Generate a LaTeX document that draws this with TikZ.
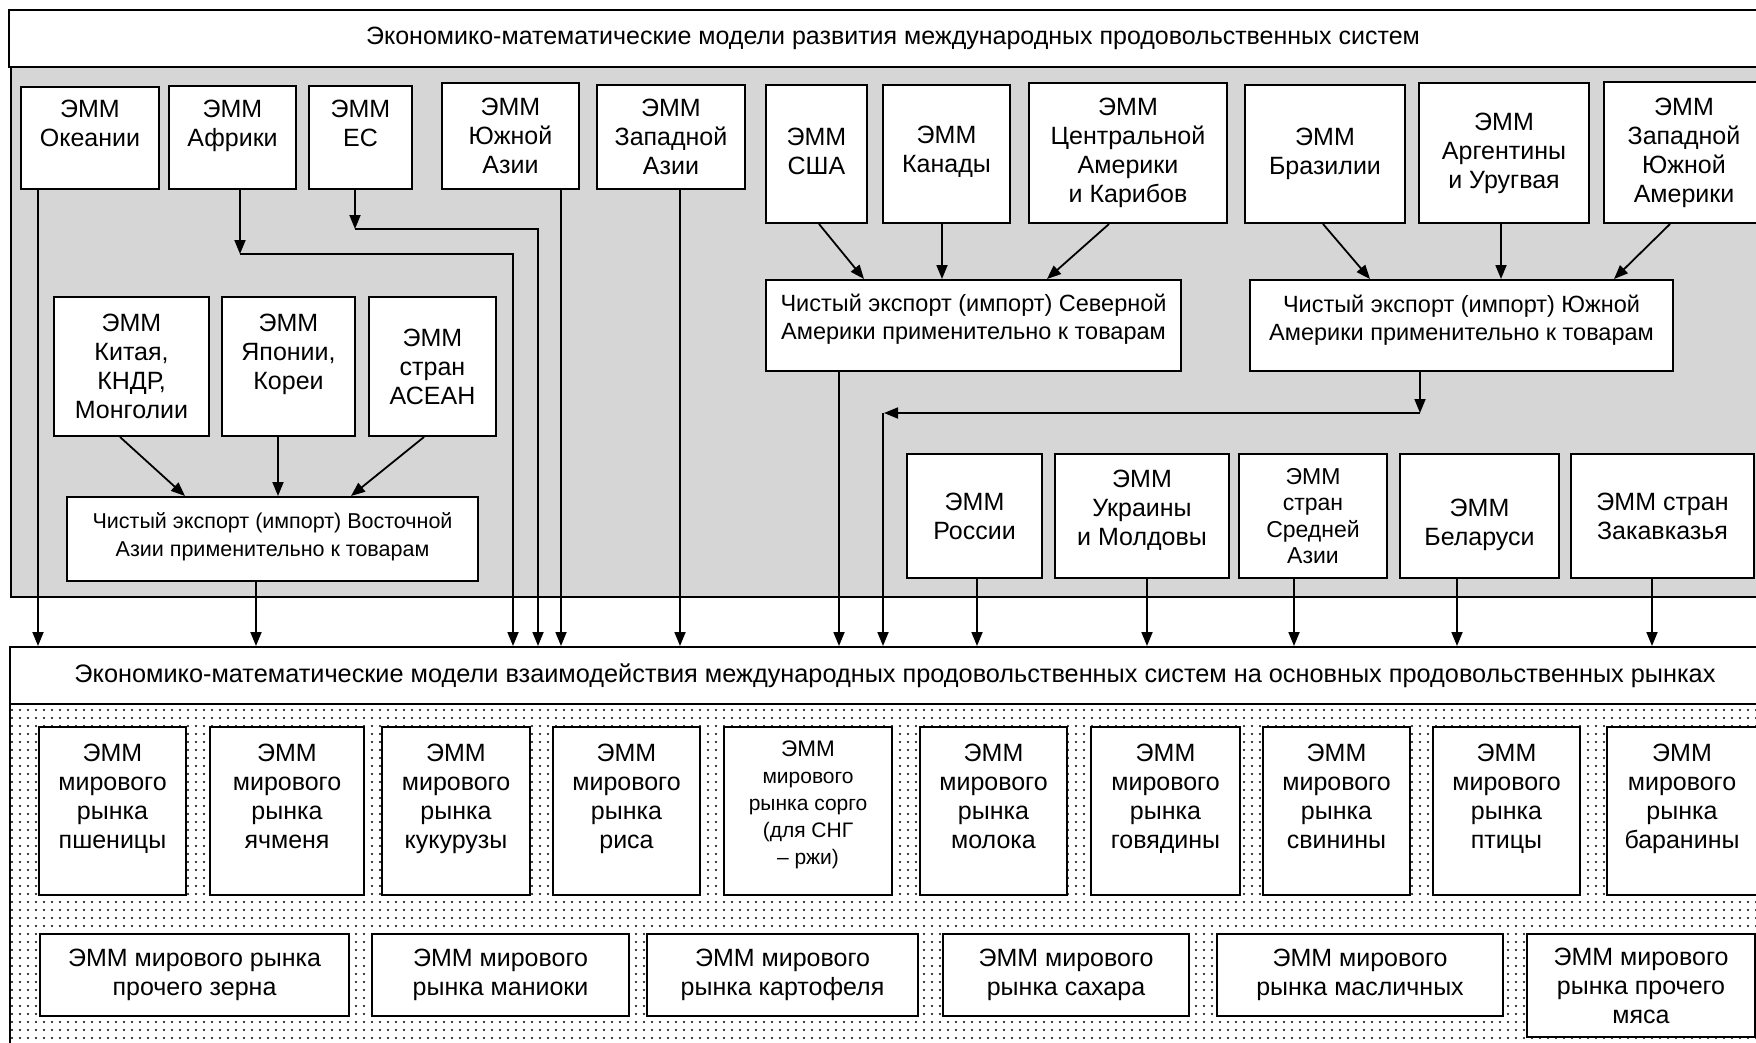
\documentclass[tikz,border=0pt]{standalone}
\usepackage{fontspec}
\setmainfont{Liberation Sans}
\usetikzlibrary{arrows.meta,patterns,calc}
\newcommand\myfs[2]{\fontsize{#1}{#2}\selectfont}
\newcommand\dn[1]{\rule[-#1pt]{0pt}{0pt}}
\newcommand\up[1]{\rule{0pt}{#1pt}}
\pgfdeclarepatternformonly{mydots}{\pgfpoint{-1pt}{-1pt}}{\pgfpoint{9pt}{9pt}}{\pgfpoint{8pt}{8pt}}{\pgfpathcircle{\pgfpoint{4pt}{4pt}}{1.15pt}\pgfusepath{fill}}
\tikzset{
  frm/.style={draw, line width=2pt},
  box/.style={draw, line width=2pt, fill=white, align=center, inner sep=0pt, font=\myfs{25}{29}},
  nbox/.style={box, font=\myfs{23.5}{28}},
  ebox/.style={box, font=\myfs{21.5}{28}},
  sbox/.style={box, font=\myfs{23}{26.5}},
  gbox/.style={box, font=\myfs{21}{27}},
  ttl/.style={frm, fill=white, font=\myfs{25}{29}},
  arr/.style={line width=1.8pt, -{Triangle[length=14pt,width=11pt]}},
  ln/.style={line width=1.8pt}
}
\begin{document}
\begin{tikzpicture}[x=1pt,y=-1pt]
\useasboundingbox (0,0) rectangle (1756,1042);
\clip (0,0) rectangle (1756,1042);
\fill[white] (0,0) rectangle (1756,1042);
% regions
\filldraw[fill=black!16, line width=2pt] (11,67) rectangle (1790,597);
\fill[white] (10,704) rectangle (1790,1070);
\fill[pattern=mydots] (10,704) rectangle (1790,1070);
\draw[line width=2pt] (10,704) rectangle (1790,1070);
\node[ttl, minimum width=1768, minimum height=57] (top) at (893,38.5) {Экономико-математические модели развития международных продовольственных систем};
\node[ttl, minimum width=1770, minimum height=57, font=\myfs{25.3}{29}] (hdr) at (895,675.5) {Экономико-математические модели взаимодействия международных продовольственных систем на основных продовольственных рынках};
% row 1
\node[box, minimum width=138, minimum height=102] (oce) at (90,138) {ЭММ\\Океании\\\mbox{}};
\node[box, minimum width=127, minimum height=103] (afr) at (232.5,137.5) {ЭММ\\Африки\\\mbox{}};
\node[box, minimum width=103, minimum height=103] (eu) at (360.5,137.5) {ЭММ\\ЕС\\\mbox{}};
\node[box, minimum width=137, minimum height=106] (sas) at (510.5,136) {ЭММ\\Южной\\Азии};
\node[box, minimum width=148, minimum height=104] (was) at (671,137) {ЭММ\\Западной\\Азии};
\node[box, minimum width=101, minimum height=138] (usa) at (816.5,154) {ЭММ\\США\dn{6}};
\node[box, minimum width=127, minimum height=138] (can) at (946.5,154) {ЭММ\\Канады\dn{9}};
\node[box, minimum width=198, minimum height=140] (cam) at (1128,153) {ЭММ\\Центральной\\Америки\\и Карибов};
\node[box, minimum width=160, minimum height=138] (bra) at (1325,154) {ЭММ\\Бразилии\dn{6}};
\node[box, minimum width=170, minimum height=140] (arg) at (1504,153) {ЭММ\\Аргентины\\и Уругвая};
\node[box, minimum width=160, minimum height=141] (wsa) at (1684,152.5) {ЭММ\\Западной\\Южной\\Америки};
% net export
\node[nbox, minimum width=415, minimum height=91] (nna) at (973.5,325.5) {Чистый экспорт (импорт) Северной\\Америки применительно к товарам\dn{17}};
\node[nbox, minimum width=423, minimum height=91] (nsa) at (1461.5,325.5) {Чистый экспорт (импорт) Южной\\Америки применительно к товарам\dn{15}};
% east asia
\node[box, minimum width=155, minimum height=139] (chn) at (131.5,366.5) {ЭММ\\Китая,\\КНДР,\\Монголии};
\node[box, minimum width=133, minimum height=139] (jpn) at (288.5,366.5) {ЭММ\\Японии,\\Кореи\\\mbox{}};
\node[box, minimum width=127, minimum height=139] (asn) at (432.5,366.5) {ЭММ\\стран\\АСЕАН};
\node[ebox, minimum width=411, minimum height=84] (nea) at (272.5,539) {Чистый экспорт (импорт) Восточной\\Азии применительно к товарам\dn{9}};
% CIS
\node[box, minimum width=135, minimum height=124] (rus) at (974.5,516) {ЭММ\\России};
\node[box, minimum width=174, minimum height=124] (ukr) at (1142,516) {ЭММ\\Украины\\и Молдовы\dn{16}};
\node[sbox, minimum width=148, minimum height=124] (cas) at (1313,516) {ЭММ\\стран\\Средней\\Азии};
\node[box, minimum width=159, minimum height=124] (blr) at (1479.5,516) {\up{36}ЭММ\\Беларуси};
\node[box, minimum width=183, minimum height=124] (zak) at (1662.5,516) {ЭММ стран\\Закавказья};
% markets
\node[box, minimum width=147, minimum height=168] (wht) at (112.5,811) {ЭММ\\мирового\\рынка\\пшеницы\\\mbox{}};
\node[box, minimum width=154, minimum height=168] (bar) at (287,811) {ЭММ\\мирового\\рынка\\ячменя\\\mbox{}};
\node[box, minimum width=148, minimum height=168] (mai) at (456,811) {ЭММ\\мирового\\рынка\\кукурузы\\\mbox{}};
\node[box, minimum width=147, minimum height=168] (ric) at (626.5,811) {ЭММ\\мирового\\рынка\\риса\\\mbox{}};
\node[gbox, minimum width=168, minimum height=168] (sor) at (808,811) {{\fontsize{22.5}{27}\selectfont ЭММ}\\мирового\\рынка сорго\\(для СНГ\\– ржи)\dn{16}};
\node[box, minimum width=147, minimum height=168] (mil) at (993.5,811) {ЭММ\\мирового\\рынка\\молока\\\mbox{}};
\node[box, minimum width=149, minimum height=168] (bee) at (1165.5,811) {ЭММ\\мирового\\рынка\\говядины\\\mbox{}};
\node[box, minimum width=147, minimum height=168] (por) at (1336.5,811) {ЭММ\\мирового\\рынка\\свинины\\\mbox{}};
\node[box, minimum width=147, minimum height=168] (pou) at (1506.5,811) {ЭММ\\мирового\\рынка\\птицы\\\mbox{}};
\node[box, minimum width=150, minimum height=168] (mut) at (1682,811) {ЭММ\\мирового\\рынка\\баранины\\\mbox{}};
% bottom row
\node[box, minimum width=309, minimum height=82] (grn) at (194.5,975) {ЭММ мирового рынка\\прочего зерна};
\node[box, minimum width=257, minimum height=82] (man) at (500.5,975) {ЭММ мирового\\рынка маниоки};
\node[box, minimum width=271, minimum height=82] (pot) at (782.5,975) {ЭММ мирового\\рынка картофеля};
\node[box, minimum width=246, minimum height=82] (sug) at (1066,975) {ЭММ мирового\\рынка сахара};
\node[box, minimum width=286, minimum height=82] (oil) at (1360,975) {ЭММ мирового\\рынка масличных};
\node[box, minimum width=228, minimum height=103] (met) at (1641,985.5) {ЭММ мирового\\рынка прочего\\мяса};
% ---- connectors to lower header
\coordinate (oceo) at ([xshift=-52pt]oce.south);
\draw[arr] (oceo) -- (oceo |- hdr.north);
\coordinate (afro) at ([xshift=7.5pt]afr.south);
\coordinate (afrc) at ([yshift=-64pt]afro);
\draw[arr] (afro) -- (afrc);
\coordinate (afrr) at ([xshift=273pt]afrc);
\draw[arr] (afrc) -- (afrr) -- (afrr |- hdr.north);
\coordinate (euo) at ([xshift=-5.5pt]eu.south);
\coordinate (euc) at ([yshift=-39pt]euo);
\draw[arr] (euo) -- (euc);
\coordinate (eur) at ([xshift=183pt]euc);
\draw[arr] (euc) -- (eur) -- (eur |- hdr.north);
\coordinate (saso) at ([xshift=50.5pt]sas.south);
\draw[arr] (saso) -- (saso |- hdr.north);
\coordinate (waso) at ([xshift=9pt]was.south);
\draw[arr] (waso) -- (waso |- hdr.north);
\coordinate (nnao) at ([xshift=-134.5pt]nna.south);
\draw[arr] (nnao) -- (nnao |- hdr.north);
\coordinate (nsao) at ([xshift=-41.5pt]nsa.south);
\coordinate (nsac) at ([yshift=-41pt]nsao);
\draw[arr] (nsao) -- (nsac);
\coordinate (nsal) at ([xshift=-536pt]nsac);
\draw[arr] (nsac) -- (nsal);
\coordinate (nsad) at ([xshift=-1pt]nsal);
\draw[arr] (nsad) -- (nsad |- hdr.north);
\coordinate (neao) at ([xshift=-16.5pt]nea.south);
\draw[arr] (neao) -- (neao |- hdr.north);
\coordinate (ruso) at ([xshift=2.5pt]rus.south);
\draw[arr] (ruso) -- (ruso |- hdr.north);
\coordinate (ukro) at ([xshift=5pt]ukr.south);
\draw[arr] (ukro) -- (ukro |- hdr.north);
\coordinate (caso) at ([xshift=-19pt]cas.south);
\draw[arr] (caso) -- (caso |- hdr.north);
\coordinate (blro) at ([xshift=-22.5pt]blr.south);
\draw[arr] (blro) -- (blro |- hdr.north);
\coordinate (zako) at ([xshift=-10.5pt]zak.south);
\draw[arr] (zako) -- (zako |- hdr.north);
% ---- east asia
\draw[arr] ([xshift=-11.5pt]chn.south) -- ([xshift=-87.5pt]nea.north);
\coordinate (jpno) at ([xshift=-10.5pt]jpn.south);
\draw[arr] (jpno) -- (jpno |- nea.north);
\draw[arr] ([xshift=-8.5pt]asn.south) -- ([xshift=78.5pt]nea.north);
% ---- americas
\draw[arr] ([xshift=2.5pt]usa.south) -- ([xshift=-109.5pt]nna.north);
\coordinate (cano) at ([xshift=-4.5pt]can.south);
\draw[arr] (cano) -- (cano |- nna.north);
\draw[arr] ([xshift=-19pt]cam.south) -- ([xshift=73.5pt]nna.north);
\draw[arr] ([xshift=-2pt]bra.south) -- ([xshift=-91.5pt]nsa.north);
\coordinate (argo) at ([xshift=-3pt]arg.south);
\draw[arr] (argo) -- (argo |- nsa.north);
\draw[arr] ([xshift=-14pt]wsa.south) -- ([xshift=152.5pt]nsa.north);
\end{tikzpicture}
\end{document}
